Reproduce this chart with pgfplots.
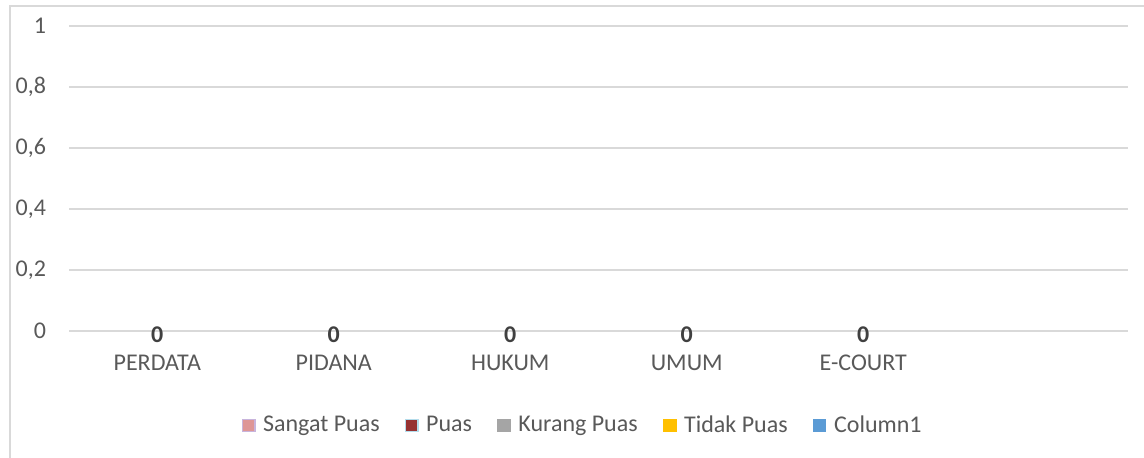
\documentclass[border=0pt]{standalone}
\usepackage{fontspec}
\setmainfont{Carlito}
\usepackage{pgfplots}
\pgfplotsset{compat=1.18}
\definecolor{txt}{HTML}{595959}
\definecolor{lbl}{HTML}{404040}
\definecolor{gridc}{HTML}{D9D9D9}
\definecolor{c1}{HTML}{DE9696}
\definecolor{c1b}{HTML}{C8B4DC}
\definecolor{c2}{HTML}{963232}
\definecolor{c2b}{HTML}{B4DCEB}
\definecolor{c3}{HTML}{A5A5A5}
\definecolor{c4}{HTML}{FFC000}
\definecolor{c5}{HTML}{5B9BD5}
\pgfplotsset{sq/.style n args={2}{draw=none, mark=none,
  legend image code/.code={\draw[fill=#1, draw=#2, line width=0.7pt] (0pt,-3.1pt) rectangle (6.2pt,3.1pt);}}}
\begin{document}
\begin{tikzpicture}
\useasboundingbox (0,0) rectangle (572pt,228.5pt);
\draw[color=gridc, line width=1pt] (4.75pt,-10pt) -- (4.75pt,225.75pt) -- (590pt,225.75pt);
\begin{axis}[
  at={(34.5pt,63pt)}, anchor=south west,
  scale only axis, width=529.5pt, height=152.5pt,
  xmin=-0.5, xmax=5.5, ymin=0, ymax=1,
  xtick={0,1,2,3,4},
  xticklabels={PERDATA,PIDANA,HUKUM,UMUM,E-COURT},
  ytick={0,0.2,0.4,0.6,0.8,1},
  ymajorgrids, grid style={color=gridc, line width=0.75pt},
  axis line style={draw=none},
  major tick style={draw=none},
  ticklabel style={font=\fontsize{12}{14}\selectfont, text=txt},
  xticklabel style={yshift=-8.5pt},
  yticklabel style={xshift=-8pt},
  /pgf/number format/.cd, use comma, assume math mode=true,
  /pgfplots/.cd,
  legend columns=5,
  legend style={at={(0.486,-0.31)}, anchor=center, draw=none, fill=none,
    font=\fontsize{12}{14}\selectfont, text=txt,
    /tikz/every odd column/.append style={column sep=1.8pt},
    /tikz/every even column/.append style={column sep=10.5pt}},
]
\addplot[sq={c1}{c1b}] coordinates {(0,0) (1,0) (2,0) (3,0) (4,0)};
\addlegendentry{Sangat Puas}
\addplot[sq={c2}{c2b}] coordinates {(0,0) (1,0) (2,0) (3,0) (4,0)};
\addlegendentry{Puas}
\addplot[sq={c3}{c3}] coordinates {(0,0) (1,0) (2,0) (3,0) (4,0)};
\addlegendentry{Kurang Puas}
\addplot[sq={c4}{c4}] coordinates {(0,0) (1,0) (2,0) (3,0) (4,0)};
\addlegendentry{Tidak Puas}
\addplot[sq={c5}{c5}] coordinates {(0,0) (1,0) (2,0) (3,0) (4,0)};
\addlegendentry{Column1}
\addplot[draw=none, mark=none, forget plot,
  nodes near coords,
  every node near coord/.append style={anchor=center, yshift=-2pt,
    font=\fontsize{12}{14}\selectfont\bfseries, text=lbl}]
  coordinates {(0,0) (1,0) (2,0) (3,0) (4,0)};
\end{axis}
\end{tikzpicture}
\end{document}
